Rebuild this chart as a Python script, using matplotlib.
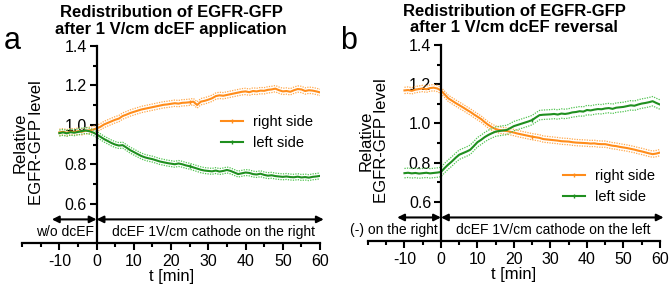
import numpy as np
import matplotlib
matplotlib.use("Agg")
import matplotlib.pyplot as plt
from matplotlib.ticker import MultipleLocator

plt.rcParams['font.family'] = ['Liberation Sans', 'DejaVu Sans']
plt.rcParams['axes.unicode_minus'] = False

# time in min, one reading per minute
t = np.arange(-10, 61)

# panel a: after dcEF application
a_right = [0.962, 0.965, 0.960, 0.966, 0.964, 0.968, 0.965, 0.970, 0.972, 0.976, 0.982,
           0.990, 1.002, 1.010, 1.018, 1.026, 1.032, 1.045, 1.052, 1.060, 1.066,
           1.072, 1.078, 1.082, 1.086, 1.090, 1.094, 1.098, 1.102, 1.104, 1.107,
           1.110, 1.108, 1.112, 1.113, 1.115, 1.118, 1.101, 1.118, 1.122, 1.128,
           1.135, 1.146, 1.150, 1.148, 1.152, 1.156, 1.160, 1.164, 1.168, 1.170,
           1.166, 1.172, 1.170, 1.174, 1.173, 1.178, 1.180, 1.184, 1.176, 1.170,
           1.172, 1.168, 1.176, 1.182, 1.180, 1.172, 1.176, 1.174, 1.170, 1.165]
a_left = [0.958, 0.962, 0.957, 0.963, 0.960, 0.964, 0.968, 0.972, 0.968, 0.962, 0.952,
          0.940, 0.928, 0.918, 0.908, 0.900, 0.895, 0.897, 0.885, 0.872, 0.862,
          0.852, 0.842, 0.835, 0.830, 0.826, 0.820, 0.814, 0.810, 0.806, 0.803,
          0.800, 0.804, 0.800, 0.794, 0.790, 0.784, 0.778, 0.772, 0.768, 0.766,
          0.764, 0.768, 0.763, 0.766, 0.771, 0.766, 0.758, 0.750, 0.754, 0.758,
          0.756, 0.750, 0.748, 0.752, 0.746, 0.742, 0.744, 0.740, 0.738, 0.736,
          0.738, 0.735, 0.734, 0.737, 0.733, 0.735, 0.732, 0.736, 0.738, 0.741]

# panel b: after dcEF reversal
b_right = [1.168, 1.170, 1.166, 1.172, 1.175, 1.178, 1.174, 1.180, 1.182, 1.178, 1.168,
           1.148, 1.128, 1.116, 1.104, 1.093, 1.082, 1.070, 1.059, 1.046, 1.034,
           1.022, 1.006, 0.992, 0.980, 0.971, 0.966, 0.963, 0.961, 0.957, 0.953,
           0.948, 0.944, 0.940, 0.936, 0.932, 0.929, 0.926, 0.920, 0.918, 0.916,
           0.914, 0.912, 0.909, 0.908, 0.907, 0.904, 0.902, 0.901, 0.900, 0.899,
           0.897, 0.898, 0.895, 0.894, 0.894, 0.890, 0.886, 0.884, 0.880, 0.877,
           0.874, 0.870, 0.866, 0.861, 0.857, 0.852, 0.847, 0.843, 0.846, 0.851]
b_left = [0.746, 0.748, 0.745, 0.747, 0.744, 0.746, 0.748, 0.745, 0.747, 0.749, 0.752,
          0.772, 0.790, 0.806, 0.824, 0.840, 0.848, 0.856, 0.865, 0.884, 0.904,
          0.916, 0.930, 0.941, 0.950, 0.958, 0.961, 0.964, 0.966, 0.976, 0.986,
          0.992, 0.998, 1.004, 1.010, 1.017, 1.030, 1.042, 1.044, 1.045, 1.046,
          1.048, 1.045, 1.050, 1.048, 1.051, 1.056, 1.058, 1.062, 1.060, 1.068,
          1.066, 1.070, 1.073, 1.072, 1.076, 1.078, 1.074, 1.080, 1.082, 1.084,
          1.088, 1.092, 1.090, 1.096, 1.101, 1.104, 1.108, 1.113, 1.104, 1.096]

# SEM of each series
sem = {'a_right': 0.016, 'a_left': 0.015, 'b_right': 0.016, 'b_left': 0.024}

orange, orange_lt = '#FF8C1A', '#FFA94D'
green, green_lt = '#1F8F1F', '#52C452'

fig = plt.figure(figsize=(6.69, 2.90), dpi=100)
ax_a = fig.add_axes([0.033, 0.162, 0.4454, 0.679])
ax_b = fig.add_axes([0.550, 0.169, 0.4365, 0.676])


def draw_panel(ax, right, left, s_right, s_left, title, pre_txt, post_txt, pre_x, post_x, leg_xy):
    for y, s, c, clt, lab in [(right, s_right, orange, orange_lt, 'right side'),
                              (left, s_left, green, green_lt, 'left side')]:
        y = np.array(y)
        ax.plot(t, y + s, color=clt, lw=0.9, ls=(0, (1, 1)))
        ax.plot(t, y - s, color=clt, lw=0.9, ls=(0, (1, 1)))
        ax.plot(t, y, color=c, lw=1.5, label=lab, marker='|', markersize=3, markevery=[35])

    ax.set_xlim(-20, 60)
    ax.set_ylim(0.4, 1.4)
    ax.spines['top'].set_visible(False)
    ax.spines['right'].set_visible(False)
    ax.spines['left'].set_position(('data', 0))
    ax.spines['left'].set_bounds(0.4, 1.4)
    for sp in ['left', 'bottom']:
        ax.spines[sp].set_linewidth(1.6)
    ax.set_xticks(np.arange(-10, 61, 10))
    ax.xaxis.set_minor_locator(MultipleLocator(5))
    ax.set_yticks([0.6, 0.8, 1.0, 1.2, 1.4])
    ax.set_yticks([0.7, 0.9, 1.1, 1.3], minor=True)
    ax.set_yticklabels(['0.6', '0.8', '1.0', '1.2', '1.4'])
    ax.tick_params(which='major', length=5, width=1.5, labelsize=11.5)
    ax.tick_params(which='minor', length=3, width=1.5)
    ax.tick_params(axis='y', pad=2)
    ax.tick_params(axis='x', pad=3)
    ax.set_xlabel('t [min]', fontsize=12, labelpad=0)
    ax.text(0.02, 0.51, 'Relative\nEGFR-GFP level', transform=ax.transAxes,
            rotation=90, ha='center', va='center', fontsize=12, multialignment='center',
            linespacing=1.1)
    ax.set_title(title, fontsize=12, fontweight='bold', pad=9, linespacing=1.1)

    # stimulation periods
    ax.annotate('', xy=(-12, 0.52), xytext=(0, 0.52),
                arrowprops=dict(arrowstyle='<|-|>', lw=1.5, color='black',
                                shrinkA=0, shrinkB=0, mutation_scale=10),
                annotation_clip=False)
    ax.annotate('', xy=(0, 0.52), xytext=(61, 0.52),
                arrowprops=dict(arrowstyle='<|-|>', lw=1.5, color='black',
                                shrinkA=0, shrinkB=0, mutation_scale=10),
                annotation_clip=False)
    ax.text(pre_x, 0.455, pre_txt, ha='center', va='center', fontsize=10)
    ax.text(post_x, 0.455, post_txt, ha='center', va='center', fontsize=10)

    ax.legend(loc='center left', bbox_to_anchor=leg_xy, frameon=False, fontsize=10.5,
              borderpad=0, borderaxespad=0, handlelength=1.5, handletextpad=0.7,
              labelspacing=0.45)


draw_panel(ax_a, a_right, a_left, sem['a_right'], sem['a_left'],
           'Redistribution of EGFR-GFP\nafter 1 V/cm dcEF application',
           'w/o dcEF', 'dcEF 1V/cm cathode on the right', -8.5, 31.5, (0.668, 0.561))
draw_panel(ax_b, b_right, b_left, sem['b_right'], sem['b_left'],
           'Redistribution of EGFR-GFP\nafter 1 V/cm dcEF reversal',
           '(-) on the right', 'dcEF 1V/cm cathode on the left', -13, 30.8, (0.668, 0.278))

fig.text(0.005, 0.86, 'a', fontsize=22, va='center')
fig.text(0.508, 0.86, 'b', fontsize=22, va='center')

fig.savefig('out.png', dpi=100)
